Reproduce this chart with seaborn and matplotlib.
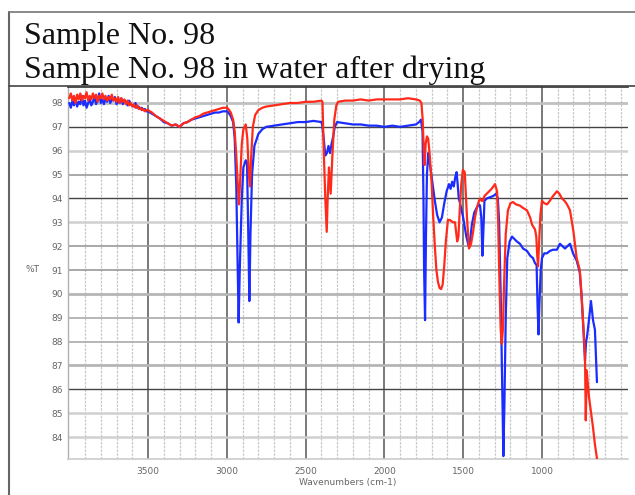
import numpy as np
import pandas as pd
import matplotlib
matplotlib.use("Agg")
import matplotlib.pyplot as plt
from matplotlib.lines import Line2D
import seaborn as sns

# ---------------- data ----------------
# noisy high-wavenumber region, 4000 -> 3510 step 10
wn_noisy = list(range(4000, 3500, -10))
blue_noisy = [98.0, 97.8, 98.1, 97.9, 98.2, 97.85, 98.05, 97.95, 98.3, 97.9,
              98.1, 97.8, 98.0, 98.15, 97.9, 98.05, 98.25, 97.95, 98.1, 98.4,
              98.0, 98.15, 97.95, 98.2, 98.05, 98.3, 98.0, 98.15, 98.1, 98.25,
              97.95, 98.1, 98.0, 98.2, 97.95, 98.1, 98.05, 97.9, 98.1, 97.95,
              97.9, 97.85, 98.0, 97.8, 97.85, 97.75, 97.8, 97.7, 97.75, 97.65]
red_noisy = [98.2, 98.4, 98.1, 98.3, 98.0, 98.35, 98.15, 98.4, 98.1, 98.3,
             98.2, 98.45, 98.1, 98.3, 98.15, 98.4, 98.2, 98.35, 98.05, 98.3,
             98.2, 98.4, 98.15, 98.3, 98.1, 98.25, 98.15, 98.35, 98.1, 98.2,
             98.05, 98.25, 98.0, 98.2, 98.05, 98.15, 97.95, 98.1, 97.9, 98.0,
             97.85, 97.95, 97.8, 97.9, 97.75, 97.8, 97.7, 97.75, 97.65, 97.7]

# blue: sample No. 98
blue_wn = [3500, 3475, 3450, 3425, 3400, 3375, 3350, 3325, 3300, 3275, 3250, 3225,
           3200, 3175, 3150, 3125, 3100, 3075, 3050, 3025, 3000,
           2990, 2975, 2960, 2950, 2940, 2932, 2925, 2918, 2905, 2895, 2880, 2872,
           2865, 2857, 2850, 2840, 2825, 2800, 2775, 2750, 2700, 2650, 2600, 2550,
           2500, 2450, 2400,
           2395, 2385, 2375, 2365, 2355, 2345, 2335, 2325, 2315, 2300, 2250, 2200,
           2150, 2100, 2050, 2000, 1950, 1900, 1850, 1800, 1780, 1768,
           1758, 1752, 1748, 1742, 1736, 1730, 1722, 1715, 1700, 1680, 1665, 1650,
           1635, 1620, 1605, 1590, 1580, 1570, 1560, 1550, 1542, 1535, 1528, 1520,
           1510, 1500, 1490, 1480, 1465, 1455, 1445, 1430, 1415, 1400, 1393, 1385,
           1378, 1372, 1365, 1350, 1330, 1310, 1290, 1280, 1272, 1262, 1252, 1245,
           1238, 1230, 1220, 1205, 1190, 1175, 1160, 1140, 1120, 1095, 1075, 1057,
           1045, 1034, 1028, 1022, 1016, 1008, 1000, 985, 968, 950, 930, 905, 886,
           870, 854, 838, 822, 803, 780, 760, 748, 740, 733, 727, 720, 714, 702,
           689, 676, 664, 651]
blue_t = [97.65, 97.55, 97.45, 97.35, 97.2, 97.15, 97.05, 97.1, 97.0, 97.15, 97.2, 97.3,
          97.35, 97.4, 97.45, 97.5, 97.55, 97.6, 97.6, 97.65, 97.65,
          97.6, 97.45, 97.2, 96.5, 94.5, 91.5, 88.8, 91.0, 94.0, 95.3, 95.6, 95.5,
          93.0, 89.7, 92.5, 95.0, 96.2, 96.7, 96.9, 97.0, 97.05, 97.1, 97.15, 97.2,
          97.2, 97.25, 97.2,
          97.1, 96.5, 95.8, 95.9, 96.2, 95.9, 96.3, 96.6, 97.0, 97.2, 97.15, 97.1,
          97.1, 97.05, 97.05, 97.0, 97.05, 97.0, 97.05, 97.1, 97.2, 97.3,
          96.8, 94.0, 91.0, 88.9, 92.5, 95.0, 95.9, 95.6, 94.9, 93.9, 93.3, 93.0,
          93.2, 93.8, 94.3, 94.6, 94.4, 94.7, 94.5, 94.9, 95.1, 94.6, 94.0, 93.8,
          93.5, 93.2, 92.8, 92.4, 92.0, 92.3, 92.9, 93.4, 93.6, 93.75, 93.7, 93.2,
          91.6, 92.6, 93.9, 94.0, 94.05, 94.1, 94.2, 94.0, 93.0, 90.0, 86.0, 83.2,
          85.5, 89.0, 91.5, 92.2, 92.4, 92.3, 92.2, 92.1, 91.9, 91.8, 91.6, 91.5,
          91.3, 91.2, 89.5, 88.3, 89.6, 91.0, 91.5, 91.7, 91.7, 91.8, 91.85, 91.85, 92.1,
          92.0, 91.9, 92.0, 92.1, 91.7, 91.4, 90.9, 89.8, 88.9, 88.0, 87.2, 88.0, 88.2, 88.9,
          89.7, 88.9, 88.5, 86.3]

# red: sample No. 98 in water after drying
red_wn = [3500, 3475, 3450, 3425, 3400, 3375, 3350, 3325, 3300, 3275, 3250, 3225,
          3200, 3175, 3150, 3125, 3100, 3075, 3050, 3025, 3000,
          2990, 2975, 2960, 2950, 2940, 2930, 2923, 2915, 2905, 2895, 2880, 2870,
          2860, 2853, 2845, 2835, 2820, 2800, 2775, 2750, 2700, 2650, 2600, 2550,
          2500, 2450, 2400,
          2393, 2385, 2375, 2366, 2360, 2352, 2341, 2330, 2318, 2305, 2294, 2250, 2200,
          2150, 2100, 2050, 2000, 1950, 1900, 1850, 1800, 1775, 1765,
          1757, 1750, 1745, 1738, 1730, 1722, 1712, 1700, 1690, 1680, 1670, 1660,
          1650, 1640, 1630, 1620, 1610, 1597, 1585, 1565, 1552, 1545, 1538, 1530,
          1522, 1512, 1502, 1490, 1476, 1463, 1450, 1437, 1425, 1413, 1400, 1393,
          1383, 1375, 1365, 1350, 1335, 1320, 1298, 1285, 1278, 1270, 1262, 1255,
          1248, 1240, 1230, 1216, 1200, 1184, 1165, 1140, 1120, 1095, 1075, 1063,
          1044, 1036, 1030, 1025, 1019, 1010, 1000, 985, 968, 950, 930, 905, 890,
          873, 857, 841, 822, 800, 780, 760, 748, 740, 733, 727, 722, 716, 702,
          690, 676, 664, 651]
red_t = [97.7, 97.6, 97.45, 97.35, 97.25, 97.15, 97.05, 97.1, 97.0, 97.15, 97.2, 97.3,
         97.4, 97.45, 97.55, 97.6, 97.65, 97.7, 97.75, 97.8, 97.8,
         97.75, 97.6, 97.3, 96.8, 95.8, 94.5, 93.75, 94.8, 96.3, 96.9, 97.1, 96.5,
         95.0, 94.5, 95.8, 97.0, 97.5, 97.7, 97.8, 97.85, 97.9, 97.95, 98.0, 98.0,
         98.05, 98.05, 98.1,
         98.05, 96.0, 94.0, 92.6, 94.0, 95.3, 94.2, 95.8, 97.3, 97.9, 98.05, 98.1, 98.1,
         98.15, 98.1, 98.15, 98.15, 98.15, 98.15, 98.2, 98.15, 98.1, 98.0,
         97.3, 96.0, 95.4, 96.3, 96.6, 96.5, 95.8, 94.6, 93.2, 92.0, 91.0, 90.5,
         90.25, 90.2, 90.4, 91.2, 92.2, 93.1, 93.1, 93.0, 93.0, 92.6, 92.2, 92.4,
         93.5, 94.6, 95.2, 95.1, 93.2, 91.9, 92.1, 92.6, 93.2, 93.6, 93.9, 94.0,
         93.9, 93.9, 94.1, 94.2, 94.3, 94.4, 94.6, 94.3, 93.0, 90.5, 88.5, 87.9,
         88.5, 90.5, 92.5, 93.5, 93.8, 93.85, 93.75, 93.7, 93.6, 93.5, 93.2, 92.9,
         92.7, 92.4, 91.6, 91.15, 92.0, 93.3, 93.9, 93.8, 93.75, 93.9, 94.1, 94.3, 94.2,
         94.0, 93.9, 93.75, 93.5, 92.6, 91.5, 91.0, 89.9, 88.9, 88.2, 87.4, 84.7, 86.8, 85.7,
         85.1, 84.4, 83.7, 83.1]

series_names = ["Sample No. 98", "Sample No. 98 in water after drying"]
y_ticks = list(range(84, 99))
x_ticks = [3500, 3000, 2500, 2000, 1500, 1000]

# ---------------- build table ----------------
df_blue = pd.DataFrame({"wn": wn_noisy + blue_wn, "T": blue_noisy + blue_t,
                        "series": series_names[0]})
df_red = pd.DataFrame({"wn": wn_noisy + red_wn, "T": red_noisy + red_t,
                       "series": series_names[1]})

sns.set_style("white")
plt.rcParams["font.family"] = ["DejaVu Sans"]

fig = plt.figure(figsize=(6.35, 4.95), dpi=100)
ax = fig.add_axes([68 / 635, 1 - 459 / 495, (628 - 68) / 635, (459 - 87) / 495])

sns.lineplot(data=df_blue, x="wn", y="T", color="#1a2cff", lw=1.6,
             sort=False, estimator=None, ax=ax, legend=False, zorder=3)
sns.lineplot(data=df_red, x="wn", y="T", color="#ff2a1a", lw=1.6,
             sort=False, estimator=None, ax=ax, legend=False, zorder=4)

ax.set_xlim(4008, 454)
ax.set_ylim(83.08, 98.67)

ax.set_xticks(x_ticks)
ax.set_xticks(list(range(3900, 499, -100)), minor=True)
ax.set_yticks(y_ticks)
ax.set_yticks(list(np.arange(83.25, 98.7, 0.25)), minor=True)

ax.tick_params(axis="both", which="major", labelsize=6.5, labelcolor="#666666",
               length=0, pad=4)
ax.tick_params(axis="x", which="major", length=4, color="#555555", direction="out", pad=2)
ax.tick_params(axis="y", which="minor", length=2, color="#999999", direction="out")
ax.tick_params(axis="x", which="minor", length=0)

# grid
ax.grid(True, which="major", axis="x", color="#555555", lw=1.1)
ax.grid(True, which="minor", axis="x", color="#c8c8c8", lw=0.9, ls=(0, (2, 1)))
ax.grid(True, which="major", axis="y", lw=1.0)
y_grid_styles = {84: ("#d0d0d0", 1.8), 85: ("#d0d0d0", 1.8), 86: ("#444444", 1.0),
                 87: ("#b5b5b5", 2.0), 88: ("#aaaaaa", 1.2), 89: ("#aaaaaa", 1.2),
                 90: ("#b5b5b5", 2.0), 91: ("#999999", 1.2), 92: ("#999999", 1.2),
                 93: ("#d0d0d0", 1.8), 94: ("#444444", 1.0), 95: ("#999999", 1.2),
                 96: ("#d0d0d0", 1.8), 97: ("#444444", 1.0), 98: ("#c0c0c0", 2.0)}
for val, gl in zip(y_ticks, ax.get_ygridlines()):
    c, w = y_grid_styles[val]
    gl.set_color(c)
    gl.set_linewidth(w)
ax.set_axisbelow(True)

ax.spines["right"].set_visible(False)
ax.spines["top"].set_color("#333333")
ax.spines["top"].set_linewidth(1.2)
ax.spines["bottom"].set_color("#cccccc")
ax.spines["bottom"].set_linewidth(1.2)
ax.spines["left"].set_color("#b0b0b0")
ax.spines["left"].set_linestyle((0, (2, 1)))
ax.spines["left"].set_linewidth(1.0)

ax.set_xlabel("")
ax.set_ylabel("")
fig.text(348 / 635, 1 - 482 / 495, "Wavenumbers (cm-1)", ha="center", va="center",
         fontsize=6.5, color="#666666")
fig.text(33 / 635, 1 - 270 / 495, "%T", ha="center", va="center",
         fontsize=6.5, color="#666666")

# title box
fig.add_artist(Line2D([9 / 635, 9 / 635], [0, 1 - 12 / 495], transform=fig.transFigure,
                      color="#666666", lw=1.5))
fig.add_artist(Line2D([9 / 635, 1], [1 - 12 / 495, 1 - 12 / 495], transform=fig.transFigure,
                      color="#777777", lw=1.2))
fig.add_artist(Line2D([9 / 635, 1], [1 - 86 / 495, 1 - 86 / 495], transform=fig.transFigure,
                      color="#444444", lw=1.2))
fig.text(24 / 635, 1 - 44 / 495, series_names[0], fontsize=23,
         family="Liberation Serif", color="#111111", va="baseline", ha="left")
fig.text(24 / 635, 1 - 78 / 495, series_names[1], fontsize=23,
         family="Liberation Serif", color="#111111", va="baseline", ha="left")

fig.savefig("out.png", dpi=100)
